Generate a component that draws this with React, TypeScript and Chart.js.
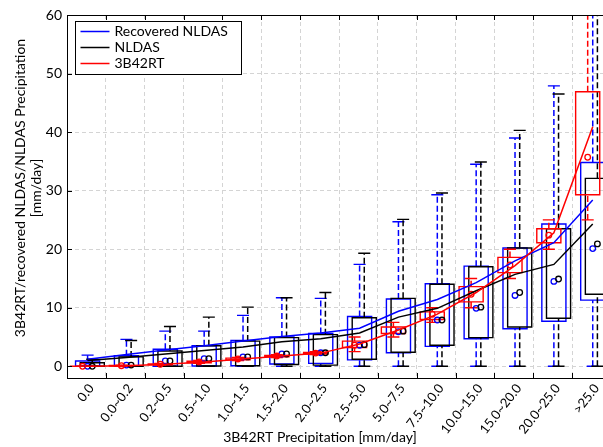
import { useEffect, useRef } from 'react';
import { Chart, registerables } from 'chart.js';

Chart.register(...registerables);

const FONT = 'Lato, "DejaVu Sans", sans-serif';
Chart.defaults.font.family = FONT;

// Precipitation classes of 3B42RT (mm/day)
const categories = [
  '0.0', '0.0~0.2', '0.2~0.5', '0.5~1.0', '1.0~1.5', '1.5~2.0', '2.0~2.5',
  '2.5~5.0', '5.0~7.5', '7.5~10.0', '10.0~15.0', '15.0~20.0', '20.0~25.0', '>25.0',
];

const seriesNames = ['Recovered NLDAS', 'NLDAS', '3B42RT'];
const seriesColors = ['#0000ff', '#000000', '#ff0000'];

// Recovered NLDAS
const recLow = [0, 0, 0, 0, 0, 0, 0, 0, 0, 0, 0, 0, 0, 0];
const recQ1 = [0, 0, 0, 0.05, 0.1, 0.4, 0.5, 1.1, 2.3, 3.4, 4.7, 6.4, 7.7, 11.3];
const recMedian = [0, 0.2, 0.9, 1.3, 1.6, 2.1, 2.3, 3.6, 5.9, 7.9, 9.9, 12.1, 14.5, 20.1];
const recQ3 = [0.9, 1.8, 2.9, 3.5, 4.4, 5.0, 5.6, 8.5, 11.5, 14.1, 17.1, 20.2, 24.3, 34.8];
const recHigh = [1.9, 4.6, 6.0, 6.0, 8.7, 11.7, 11.6, 17.4, 24.7, 29.3, 34.5, 39.0, 47.9, 75];
const recMean = [1.2, 2.0, 2.8, 3.5, 4.3, 5.1, 5.7, 6.5, 9.4, 11.4, 14.3, 18.0, 21.1, 28.4];

// NLDAS
const nldasLow = [0, 0, 0, 0, 0, 0, 0, 0, 0, 0, 0, 0, 0, 0];
const nldasQ1 = [0, 0, 0, 0.05, 0.1, 0.3, 0.2, 1.2, 2.4, 3.6, 4.9, 6.7, 8.2, 12.3];
const nldasMedian = [0, 0.2, 0.9, 1.3, 1.6, 2.1, 2.3, 3.7, 6.0, 7.9, 10.1, 12.6, 14.9, 20.9];
const nldasQ3 = [0.6, 1.6, 2.6, 3.5, 4.3, 4.9, 5.4, 8.3, 11.6, 14.0, 17.0, 20.2, 23.5, 32.1];
const nldasHigh = [1.2, 4.4, 6.8, 8.4, 10.1, 11.7, 12.6, 19.3, 25.1, 29.6, 34.9, 40.3, 46.5, 75];
const nldasMean = [1.0, 1.5, 2.1, 2.7, 3.3, 4.2, 4.7, 5.7, 8.4, 9.9, 12.9, 15.7, 17.4, 24.3];

// 3B42RT
const trmmLow = [0, 0, 0.2, 0.5, 1.0, 1.5, 2.0, 2.5, 5.0, 7.5, 10.0, 15.0, 20.0, 25.0];
const trmmQ1 = [0, 0.05, 0.27, 0.6, 1.1, 1.6, 2.1, 3.2, 5.6, 8.0, 11.0, 16.0, 21.1, 29.3];
const trmmMedian = [0, 0.1, 0.35, 0.75, 1.25, 1.75, 2.25, 3.6, 6.2, 8.9, 12.3, 17.3, 22.4, 35.7];
const trmmQ3 = [0, 0.15, 0.42, 0.85, 1.4, 1.85, 2.35, 4.3, 6.7, 9.3, 13.6, 18.6, 23.5, 46.9];
const trmmHigh = [0, 0.2, 0.5, 1.0, 1.5, 2.0, 2.5, 5.0, 7.5, 10.0, 15.0, 20.0, 25.0, 75];
const trmmMean = [0, 0.1, 0.35, 0.75, 1.25, 1.75, 2.25, 3.8, 6.2, 8.9, 12.6, 17.2, 22.8, 40.9];

const yMin = -2;
const yMax = 60;
const yStep = 10;

const xTitle = '3B42RT Precipitation [mm/day]';
const yTitleLines = ['3B42RT/recovered NLDAS/NLDAS Precipitation', '[mm/day]'];

const stats = [
  { low: recLow, q1: recQ1, median: recMedian, q3: recQ3, high: recHigh, mean: recMean },
  { low: nldasLow, q1: nldasQ1, median: nldasMedian, q3: nldasQ3, high: nldasHigh, mean: nldasMean },
  { low: trmmLow, q1: trmmQ1, median: trmmMedian, q3: trmmQ3, high: trmmHigh, mean: trmmMean },
];

// horizontal placement inside a class, in class-width units
const SHIFTS = [0.03, 0.15, -0.1];
const MEAN_SHIFT = 0.03;
const BOX_HALF = 0.31;
const CAP_HALF = 0.155;
// painting rank: 0 is on top
const RANKS = [2, 1, 0];

const GRID = '#d4d4d4';

const gap = (x: number) => ({ x, y: null });

function boxPoints(s: any, shift: number) {
  const pts: any[] = [];
  categories.forEach((_, i) => {
    const c = i + shift;
    pts.push(
      { x: c - BOX_HALF, y: s.q1[i] },
      { x: c + BOX_HALF, y: s.q1[i] },
      { x: c + BOX_HALF, y: s.q3[i] },
      { x: c - BOX_HALF, y: s.q3[i] },
      { x: c - BOX_HALF, y: s.q1[i] },
      gap(c),
    );
  });
  return pts;
}

function whiskerPoints(s: any, shift: number) {
  const pts: any[] = [];
  categories.forEach((_, i) => {
    const c = i + shift;
    pts.push(
      { x: c, y: s.q3[i] }, { x: c, y: s.high[i] }, gap(c),
      { x: c, y: s.low[i] }, { x: c, y: s.q1[i] }, gap(c),
    );
  });
  return pts;
}

function capPoints(s: any, shift: number) {
  const pts: any[] = [];
  categories.forEach((_, i) => {
    const c = i + shift;
    pts.push(
      { x: c - CAP_HALF, y: s.high[i] }, { x: c + CAP_HALF, y: s.high[i] }, gap(c),
      { x: c - CAP_HALF, y: s.low[i] }, { x: c + CAP_HALF, y: s.low[i] }, gap(c),
    );
  });
  return pts;
}

function buildDatasets() {
  const sets: any[] = [];
  seriesNames.forEach((name, k) => {
    const s = stats[k];
    const color = seriesColors[k];
    const shift = SHIFTS[k];
    const rank = RANKS[k];
    const common = {
      xAxisID: 'xl',
      yAxisID: 'y',
      borderColor: color,
      pointRadius: 0,
      tension: 0,
      spanGaps: false,
      fill: false,
    };
    sets.push({
      ...common,
      label: name,
      data: categories.map((_, i) => ({ x: i + MEAN_SHIFT, y: s.mean[i] })),
      borderWidth: 1.5,
      order: rank,
    });
    sets.push({
      ...common,
      label: name + ' median',
      data: categories.map((_, i) => ({ x: i + shift, y: s.median[i] })),
      showLine: false,
      pointRadius: 2.8,
      pointBorderWidth: 1.3,
      pointBorderColor: color,
      pointBackgroundColor: 'rgba(0,0,0,0)',
      order: 3 + rank,
    });
    sets.push({
      ...common,
      label: name + ' box',
      data: boxPoints(s, shift),
      borderWidth: 1.4,
      borderJoinStyle: 'miter',
      borderCapStyle: 'square',
      order: 6 + rank * 3,
    });
    sets.push({
      ...common,
      label: name + ' whisker',
      data: whiskerPoints(s, shift),
      borderWidth: 1.5,
      borderDash: [6, 3],
      order: 7 + rank * 3,
    });
    sets.push({
      ...common,
      label: name + ' cap',
      data: capPoints(s, shift),
      borderWidth: 1.4,
      order: 8 + rank * 3,
    });
  });
  return sets;
}

// black frame, inward tick marks and axis titles
const frameAndTitles = {
  id: 'frameAndTitles',
  afterDraw(chart: any) {
    const { ctx, chartArea, scales } = chart;
    const { left, right, top, bottom } = chartArea;
    const xs = scales.xl;
    const ys = scales.y;
    ctx.save();
    ctx.setLineDash([]);
    ctx.strokeStyle = '#000';
    ctx.lineWidth = 1;
    ctx.beginPath();
    const t = Math.round(top) + 0.5;
    ctx.moveTo(left, t);
    ctx.lineTo(right, t);
    for (const tick of ys.ticks) {
      const py = Math.round(ys.getPixelForValue(tick.value)) + 0.5;
      ctx.moveTo(left, py);
      ctx.lineTo(left + 5, py);
    }
    for (let i = 1; i < categories.length; i++) {
      const px = Math.round(xs.getPixelForValue(i - 0.5)) + 0.5;
      ctx.moveTo(px, bottom);
      ctx.lineTo(px, bottom - 5);
      ctx.moveTo(px, top);
      ctx.lineTo(px, top + 5);
    }
    ctx.stroke();

    ctx.fillStyle = '#000';
    ctx.font = `14px ${FONT}`;
    ctx.textAlign = 'center';
    ctx.textBaseline = 'middle';
    ctx.fillText(xTitle, 320, 437);
    ctx.translate(20, 188);
    ctx.rotate(-Math.PI / 2);
    ctx.fillText(yTitleLines[0], 0, 0);
    ctx.fillText(yTitleLines[1], 0, 16);
    ctx.restore();
  },
};

// boxed legend in the upper-left corner of the plot
const legendBox = {
  id: 'legendBox',
  afterDraw(chart: any) {
    const { ctx, chartArea } = chart;
    const bx = Math.round(chartArea.left + 8) + 0.5;
    const by = Math.round(chartArea.top + 6) + 0.5;
    const bw = 166;
    const bh = 53;
    ctx.save();
    ctx.setLineDash([]);
    ctx.fillStyle = '#fff';
    ctx.fillRect(bx, by, bw, bh);
    ctx.strokeStyle = '#000';
    ctx.lineWidth = 1;
    ctx.strokeRect(bx, by, bw, bh);
    ctx.font = `14px ${FONT}`;
    ctx.textBaseline = 'middle';
    ctx.textAlign = 'left';
    seriesNames.forEach((name, k) => {
      const y = by + 10 + k * 16;
      ctx.strokeStyle = seriesColors[k];
      ctx.lineWidth = 1.5;
      ctx.beginPath();
      ctx.moveTo(bx + 5, y);
      ctx.lineTo(bx + 34, y);
      ctx.stroke();
      ctx.fillStyle = '#000';
      ctx.fillText(name, bx + 39, y);
    });
    ctx.restore();
  },
};

export default function App() {
  const ref = useRef<HTMLCanvasElement>(null);

  useEffect(() => {
    const canvas = ref.current;
    if (!canvas) return;
    const chart = new Chart(canvas, {
      type: 'line',
      data: { labels: categories, datasets: buildDatasets() },
      options: {
        responsive: false,
        animation: false,
        devicePixelRatio: 1,
        events: [],
        layout: { padding: { top: 15, right: 9, left: 0, bottom: 0 } },
        plugins: {
          legend: { display: false },
          tooltip: { enabled: false },
          title: { display: false },
        },
        scales: {
          x: {
            type: 'category',
            position: 'bottom',
            offset: true,
            grid: { offset: true, color: GRID, lineWidth: 1, drawTicks: false },
            border: { display: true, color: '#000', width: 1, dash: [4, 3] },
            ticks: {
              autoSkip: false,
              minRotation: 52,
              maxRotation: 52,
              padding: 3,
              labelOffset: 5,
              color: '#000',
              font: { size: 13, family: FONT },
            },
            afterFit: (s: any) => {
              s.height = 69;
            },
          },
          xl: {
            type: 'linear',
            display: false,
            min: -0.5,
            max: categories.length - 0.5,
          },
          y: {
            type: 'linear',
            position: 'left',
            min: yMin,
            max: yMax,
            grid: { color: GRID, lineWidth: 1, drawTicks: false },
            border: { display: true, color: '#000', width: 1, dash: [4, 3] },
            ticks: {
              stepSize: yStep,
              includeBounds: false,
              padding: 5,
              color: '#000',
              font: { size: 14, family: FONT },
            },
            afterFit: (s: any) => {
              s.width = 67;
            },
          },
        },
      } as any,
      plugins: [frameAndTitles, legendBox],
    } as any);
    return () => chart.destroy();
  }, []);

  return (
    <div
      style={{
        position: 'fixed',
        left: 0,
        top: 0,
        width: 603,
        height: 447,
        overflow: 'hidden',
        background: '#fff',
      }}
    >
      <canvas ref={ref} width={620} height={447} style={{ display: 'block', width: 620, height: 447 }} />
    </div>
  );
}
